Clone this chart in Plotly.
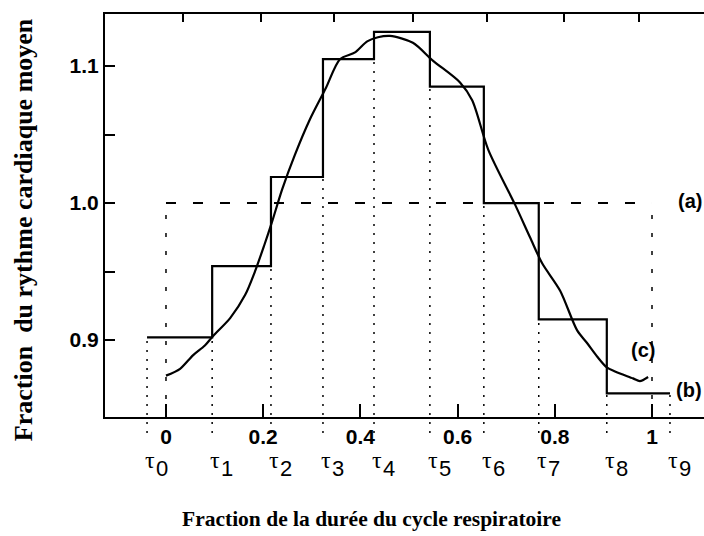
import plotly.graph_objects as go

# Boundaries of the respiratory-cycle bins (fraction of cycle duration)
tau = [-0.039, 0.095, 0.216, 0.323, 0.428, 0.543, 0.654, 0.767, 0.907, 1.037]
tau_names = ["0", "1", "2", "3", "4", "5", "6", "7", "8", "9"]

# (b) mean heart-rate fraction within each bin
bin_level = [0.902, 0.954, 1.019, 1.105, 1.125, 1.085, 1.000, 0.915, 0.861]

# (a) constant reference level over the whole cycle
ref_level = 1.0
ref_start, ref_end = 0.0, 1.0

# (c) continuous estimate over the cycle
curve_x = [0.000, 0.029, 0.056, 0.080, 0.097, 0.132, 0.163, 0.183, 0.202, 0.218,
           0.239, 0.265, 0.296, 0.329, 0.358, 0.389, 0.414, 0.436, 0.461, 0.508,
           0.549, 0.605, 0.630, 0.663, 0.718, 0.749, 0.774, 0.811, 0.846, 0.866,
           0.887, 0.907, 0.924, 0.961, 0.975, 0.992]
curve_y = [0.874, 0.879, 0.889, 0.896, 0.903, 0.916, 0.933, 0.950, 0.969, 0.986,
           1.010, 1.035, 1.061, 1.084, 1.105, 1.110, 1.118, 1.121, 1.122, 1.117,
           1.104, 1.088, 1.075, 1.039, 0.999, 0.975, 0.956, 0.936, 0.907, 0.898,
           0.888, 0.880, 0.877, 0.872, 0.870, 0.873]

x_ticks = [0, 0.2, 0.4, 0.6, 0.8, 1.0]
x_tick_text = ["0", "0.2", "0.4", "0.6", "0.8", "1"]
top_ticks = [0.035, 0.195, 0.346, 0.508, 0.660, 0.819, 0.973]
y_ticks = [0.9, 1.0, 1.1]
y_tick_text = ["0.9", "1.0", "1.1"]
y_minor_ticks = [0.95, 1.05]

x_range = [-0.1255, 1.107]
y_range = [0.8438, 1.138]

SANS = "Liberation Sans, Arial, sans-serif"
SERIF = "Liberation Serif, Times New Roman, serif"
INK = "black"


def to_paper(v):
    return (v - y_range[0]) / (y_range[1] - y_range[0])


fig = go.Figure()

# vertical dotted guides at each bin boundary, running below the axis
shapes = []
for i, t in enumerate(tau):
    if i == 0:
        top = bin_level[0]
    elif i == len(tau) - 1:
        top = bin_level[-1]
    else:
        top = min(bin_level[i - 1], bin_level[i])
    shapes.append(dict(type="line", xref="x", yref="paper", x0=t, x1=t,
                       y0=-0.04, y1=to_paper(top), layer="below",
                       line=dict(color=INK, width=1.5, dash="2px,7px")))

# (a) reference box: dashed level with dashed legs down to the axis
fig.add_trace(go.Scatter(x=[ref_start, ref_end], y=[ref_level, ref_level],
                         mode="lines", line=dict(color=INK, width=2, dash="10px,17px"),
                         showlegend=False, hoverinfo="skip"))
for xe in (ref_start, ref_end):
    fig.add_trace(go.Scatter(x=[xe, xe], y=[y_range[0], ref_level],
                             mode="lines", line=dict(color=INK, width=1.5, dash="4px,14px"),
                             showlegend=False, hoverinfo="skip"))

# (b) staircase of bin means
fig.add_trace(go.Scatter(x=tau, y=bin_level + [bin_level[-1]], mode="lines",
                         line=dict(color=INK, width=2.2, shape="hv"),
                         showlegend=False, hoverinfo="skip"))

# (c) smooth curve
fig.add_trace(go.Scatter(x=curve_x, y=curve_y, mode="lines",
                         line=dict(color=INK, width=2.2, shape="spline", smoothing=0.8),
                         showlegend=False, hoverinfo="skip"))

# empty trace so the top tick axis is drawn
fig.add_trace(go.Scatter(x=[None], y=[None], xaxis="x2", showlegend=False, hoverinfo="skip"))

annotations = []
# bin boundary names: serif tau followed by a lowered index digit
for t, n in zip(tau, tau_names):
    annotations.append(dict(x=t, y=-0.1067, xref="x", yref="paper", text="τ",
                            showarrow=False, xanchor="left", yanchor="middle", xshift=-4,
                            font=dict(family=SERIF, size=24, color=INK)))
    annotations.append(dict(x=t, y=-0.128, xref="x", yref="paper", text=n,
                            showarrow=False, xanchor="left", yanchor="middle", xshift=7,
                            font=dict(family=SANS, size=22, color=INK)))

annotations += [
    dict(x=ref_end, y=ref_level, xref="x", yref="y", text="(a)", showarrow=False,
         xanchor="left", yanchor="middle", xshift=24, yshift=2,
         font=dict(family=SANS, size=20, color=INK, weight="bold")),
    dict(x=tau[-1], y=bin_level[-1], xref="x", yref="y", text="(b)", showarrow=False,
         xanchor="left", yanchor="middle", xshift=4, yshift=3,
         font=dict(family=SANS, size=20, color=INK, weight="bold")),
    dict(x=0.981, y=0.893, xref="x", yref="y", text="(c)", showarrow=False,
         xanchor="center", yanchor="middle",
         font=dict(family=SANS, size=20, color=INK, weight="bold")),
    dict(x=0.445, y=-0.253, xref="paper", yref="paper",
         text="<b>Fraction de la durée du cycle respiratoire</b>", showarrow=False,
         xanchor="center", yanchor="middle",
         font=dict(family=SERIF, size=21.5, color=INK)),
    dict(x=-0.137, y=0.466, xref="paper", yref="paper", textangle=-90,
         text="<b>Fraction  du rythme cardiaque moyen</b>", showarrow=False,
         xanchor="center", yanchor="middle",
         font=dict(family=SERIF, size=26, color=INK)),
]

tick_font = dict(family=SANS, size=21, color=INK, weight="bold")

fig.update_layout(
    width=704, height=536,
    margin=dict(l=105, r=0, t=14, b=119),
    paper_bgcolor="white", plot_bgcolor="white",
    showlegend=False,
    shapes=shapes,
    annotations=annotations,
    xaxis=dict(range=x_range, tickvals=x_ticks, ticktext=x_tick_text,
               ticks="inside", ticklen=13, tickwidth=2, tickcolor=INK,
               showline=True, linewidth=2, linecolor=INK, showgrid=False,
               zeroline=False, tickfont=tick_font),
    xaxis2=dict(range=x_range, overlaying="x", side="top", anchor="y",
                tickvals=top_ticks, showticklabels=False,
                ticks="inside", ticklen=8, tickwidth=2, tickcolor=INK,
                showline=True, linewidth=2, linecolor=INK, showgrid=False,
                zeroline=False),
    yaxis=dict(range=y_range, tickvals=y_ticks, ticktext=y_tick_text,
               ticks="inside", ticklen=10, tickwidth=2, tickcolor=INK,
               minor=dict(tickvals=y_minor_ticks, ticks="inside", ticklen=10,
                          tickwidth=2, tickcolor=INK, showgrid=False),
               showline=True, linewidth=2, linecolor=INK, showgrid=False,
               zeroline=False, tickfont=tick_font),
)

fig.write_html("out.html")
